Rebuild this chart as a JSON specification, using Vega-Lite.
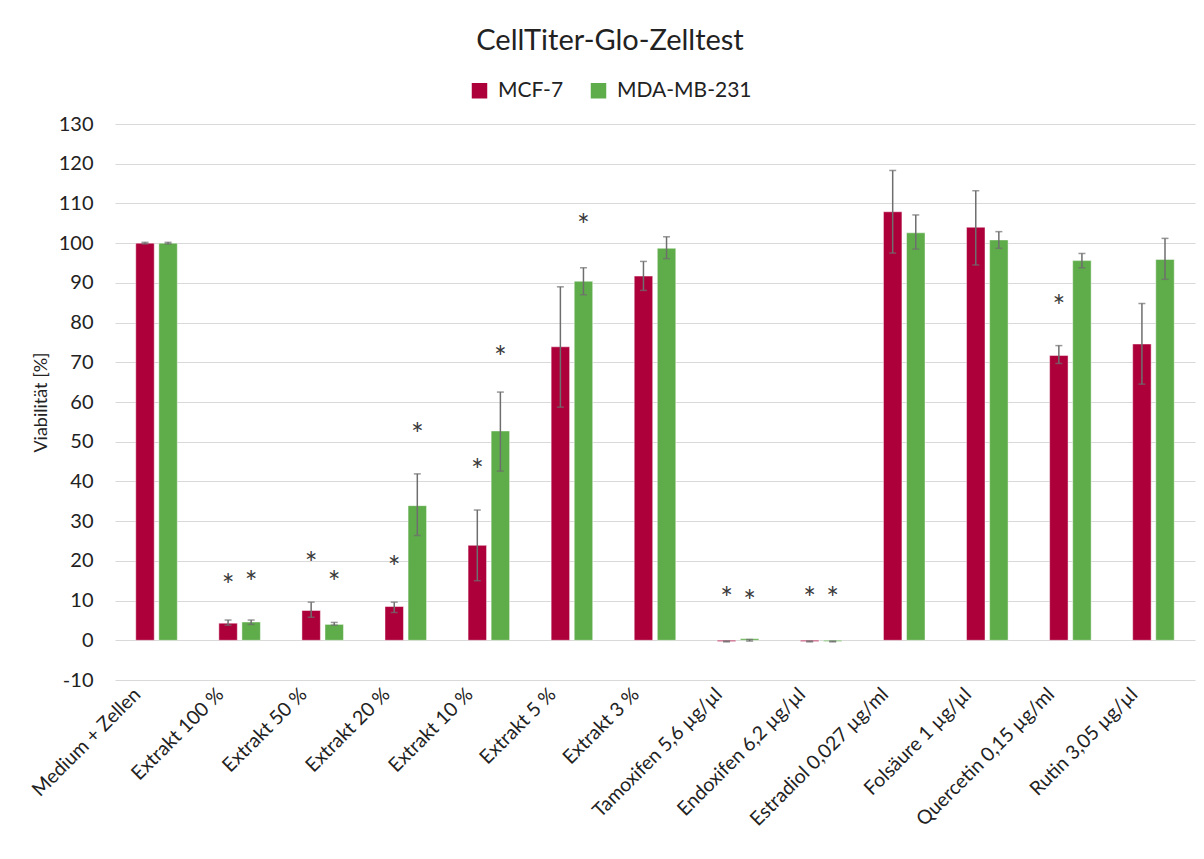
{
  "$schema": "https://vega.github.io/schema/vega-lite/v6.json",
  "width": 1080,
  "height": 556,
  "autosize": "none",
  "padding": {"left": 115, "top": 124, "right": 9, "bottom": 179},
  "background": "white",
  "title": {
    "text": "CellTiter-Glo-Zelltest",
    "font": "Lato",
    "fontSize": 29,
    "fontWeight": "normal",
    "color": "#222222",
    "anchor": "middle",
    "dx": -45,
    "offset": 24
  },
  "data": {
    "values": [
      {"gruppe": "Medium + Zellen", "linie": "MCF-7", "wert": 100, "lo": 99.8, "hi": 100.2, "stern": null},
      {"gruppe": "Medium + Zellen", "linie": "MDA-MB-231", "wert": 100, "lo": 99.8, "hi": 100.2, "stern": null},
      {"gruppe": "Extrakt 100 %", "linie": "MCF-7", "wert": 4.3, "lo": 3.8, "hi": 5.1, "stern": 15.2},
      {"gruppe": "Extrakt 100 %", "linie": "MDA-MB-231", "wert": 4.6, "lo": 4.0, "hi": 5.1, "stern": 16.0},
      {"gruppe": "Extrakt 50 %", "linie": "MCF-7", "wert": 7.5, "lo": 5.8, "hi": 9.6, "stern": 20.6},
      {"gruppe": "Extrakt 50 %", "linie": "MDA-MB-231", "wert": 4.0, "lo": 3.8, "hi": 4.5, "stern": 16.0},
      {"gruppe": "Extrakt 20 %", "linie": "MCF-7", "wert": 8.5, "lo": 7.0, "hi": 9.6, "stern": 19.8},
      {"gruppe": "Extrakt 20 %", "linie": "MDA-MB-231", "wert": 33.9, "lo": 26.4, "hi": 41.9, "stern": 53.3},
      {"gruppe": "Extrakt 10 %", "linie": "MCF-7", "wert": 23.9, "lo": 15.0, "hi": 32.8, "stern": 44.2},
      {"gruppe": "Extrakt 10 %", "linie": "MDA-MB-231", "wert": 52.7, "lo": 42.6, "hi": 62.5, "stern": 72.6},
      {"gruppe": "Extrakt 5 %", "linie": "MCF-7", "wert": 73.9, "lo": 58.7, "hi": 89.0, "stern": null},
      {"gruppe": "Extrakt 5 %", "linie": "MDA-MB-231", "wert": 90.4, "lo": 87.0, "hi": 93.8, "stern": 105.8},
      {"gruppe": "Extrakt 3 %", "linie": "MCF-7", "wert": 91.7, "lo": 88.1, "hi": 95.4, "stern": null},
      {"gruppe": "Extrakt 3 %", "linie": "MDA-MB-231", "wert": 98.7, "lo": 96.1, "hi": 101.6, "stern": null},
      {"gruppe": "Tamoxifen 5,6 µg/µl", "linie": "MCF-7", "wert": -0.3, "lo": -0.4, "hi": -0.2, "stern": 11.8},
      {"gruppe": "Tamoxifen 5,6 µg/µl", "linie": "MDA-MB-231", "wert": 0.4, "lo": -0.2, "hi": 0.2, "stern": 11.2},
      {"gruppe": "Endoxifen 6,2 µg/µl", "linie": "MCF-7", "wert": -0.3, "lo": -0.4, "hi": -0.2, "stern": 11.9},
      {"gruppe": "Endoxifen 6,2 µg/µl", "linie": "MDA-MB-231", "wert": -0.3, "lo": -0.4, "hi": -0.2, "stern": 11.9},
      {"gruppe": "Estradiol 0,027 µg/ml", "linie": "MCF-7", "wert": 107.9, "lo": 97.5, "hi": 118.3, "stern": null},
      {"gruppe": "Estradiol 0,027 µg/ml", "linie": "MDA-MB-231", "wert": 102.6, "lo": 98.5, "hi": 107.1, "stern": null},
      {"gruppe": "Folsäure 1 µg/µl", "linie": "MCF-7", "wert": 104.0, "lo": 94.5, "hi": 113.2, "stern": null},
      {"gruppe": "Folsäure 1 µg/µl", "linie": "MDA-MB-231", "wert": 100.8, "lo": 98.7, "hi": 102.9, "stern": null},
      {"gruppe": "Quercetin 0,15 µg/ml", "linie": "MCF-7", "wert": 71.7, "lo": 69.7, "hi": 74.2, "stern": 85.5},
      {"gruppe": "Quercetin 0,15 µg/ml", "linie": "MDA-MB-231", "wert": 95.6, "lo": 93.8, "hi": 97.4, "stern": null},
      {"gruppe": "Rutin 3,05 µg/µl", "linie": "MCF-7", "wert": 74.6, "lo": 64.5, "hi": 84.8, "stern": null},
      {"gruppe": "Rutin 3,05 µg/µl", "linie": "MDA-MB-231", "wert": 95.9, "lo": 90.9, "hi": 101.2, "stern": null}
    ]
  },
  "encoding": {
    "x": {
      "field": "gruppe",
      "type": "nominal",
      "sort": null,
      "scale": {"paddingInner": 0.5, "paddingOuter": 0.25},
      "axis": {
        "title": null,
        "labelAngle": -45,
        "labelAlign": "right",
        "labelBaseline": "middle",
        "labelFont": "Lato",
        "labelFontSize": 19.5,
        "labelColor": "#222222",
        "labelPadding": 11,
        "labelOffset": -19,
        "labelLimit": 400,
        "ticks": false,
        "domain": false
      }
    },
    "xOffset": {
      "field": "linie",
      "type": "nominal",
      "scale": {"paddingInner": 0.2, "paddingOuter": 0}
    }
  },
  "layer": [
    {
      "mark": {"type": "bar", "stroke": "white", "strokeOpacity": 0.45, "strokeWidth": 1},
      "encoding": {
        "y": {
          "field": "wert",
          "type": "quantitative",
          "scale": {"domain": [-10, 130], "nice": false, "zero": false},
          "axis": {
            "title": "Viabilität [%]",
            "titleFont": "Lato",
            "titleFontSize": 18,
            "titleFontWeight": "normal",
            "titleColor": "#222222",
            "titlePadding": 8,
            "values": [-10, 0, 10, 20, 30, 40, 50, 60, 70, 80, 90, 100, 110, 120, 130],
            "tickCount": 30,
            "labelExpr": "replace(datum.label, '\u2212', '-')",
            "labelOverlap": false,
            "labelFont": "Lato",
            "labelFontSize": 20,
            "labelColor": "#222222",
            "labelPadding": 22,
            "ticks": false,
            "domain": false,
            "grid": true,
            "gridColor": "#d9d9d9",
            "gridWidth": 1
          }
        },
        "y2": {"datum": 0},
        "color": {
          "field": "linie",
          "type": "nominal",
          "scale": {"domain": ["MCF-7", "MDA-MB-231"], "range": ["#ad003b", "#5fac4a"]},
          "legend": {
            "title": null,
            "orient": "none",
            "legendX": 354,
            "legendY": -44,
            "direction": "horizontal",
            "labelFont": "Lato",
            "labelFontSize": 21,
            "labelColor": "#222222",
            "symbolType": "square",
            "symbolSize": 240,
            "symbolStrokeWidth": 0,
            "columnPadding": 24,
            "labelOffset": 8
          }
        }
      }
    },
    {
      "mark": {"type": "rule", "color": "#6e6e6e", "strokeWidth": 1.5},
      "encoding": {
        "y": {"field": "lo", "type": "quantitative"},
        "y2": {"field": "hi"}
      }
    },
    {
      "mark": {"type": "tick", "color": "#6e6e6e", "size": 7, "thickness": 1.5, "orient": "horizontal"},
      "encoding": {"y": {"field": "lo", "type": "quantitative"}}
    },
    {
      "mark": {"type": "tick", "color": "#6e6e6e", "size": 7, "thickness": 1.5, "orient": "horizontal"},
      "encoding": {"y": {"field": "hi", "type": "quantitative"}}
    },
    {
      "transform": [{"filter": "datum.stern != null"}],
      "mark": {"type": "text", "text": "*", "font": "Lato", "fontSize": 30, "color": "#3a3a3a", "baseline": "middle", "dy": 7},
      "encoding": {"y": {"field": "stern", "type": "quantitative"}}
    }
  ],
  "config": {
    "view": {"stroke": null}
  }
}
